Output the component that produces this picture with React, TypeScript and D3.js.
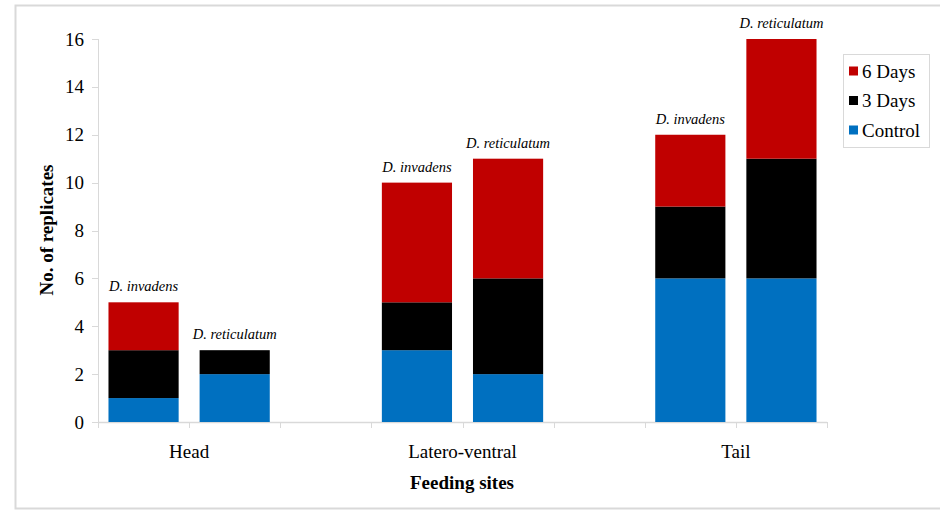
import React from "react";
import * as d3 from "d3";

// Feeding-site categories and the two species compared at each site
const sites = ["Head", "Latero-ventral", "Tail"];
const species = ["D. invadens", "D. reticulatum"];

// Stacked counts per bar, ordered site by site, species within site
const controlVals = [1, 2, 3, 2, 6, 6];
const day3Vals = [2, 1, 2, 4, 3, 5];
const day6Vals = [2, 0, 5, 5, 3, 5];

const yTicks = [0, 2, 4, 6, 8, 10, 12, 14, 16];

const seriesNames = ["Control", "3 Days", "6 Days"];
const seriesColors = ["#0070C0", "#000000", "#C00000"];

const W = 940;
const H = 510;
const FONT = "Liberation Serif, Times New Roman, DejaVu Serif, serif";

export default function App() {
  // Slots along the x axis: two bars per site with an empty slot between sites
  const slots: string[] = [];
  sites.forEach((s, i) => {
    species.forEach((sp) => slots.push(`${s}|${sp}`));
    if (i < sites.length - 1) slots.push(`gap${i}`);
  });

  const x = d3
    .scaleBand<string>()
    .domain(slots)
    .range([98, 827])
    .paddingInner(0.23)
    .paddingOuter(0.115);
  const step = x.step();
  const x0 = 98;

  const y = d3.scaleLinear().domain([0, 16]).range([422, 39]);

  const rows = sites.flatMap((s, si) =>
    species.map((sp, pi) => {
      const idx = si * species.length + pi;
      return {
        key: `${s}|${sp}`,
        species: sp,
        Control: controlVals[idx],
        "3 Days": day3Vals[idx],
        "6 Days": day6Vals[idx],
      };
    })
  );

  const stack = d3.stack<any>().keys(seriesNames);
  const layers = stack(rows);

  const boundaries = d3.range(slots.length + 1).map((i) => x0 + i * step);

  const legendItems = [...seriesNames].reverse();

  const txt = { fontFamily: FONT };

  return (
    <svg
      width={W}
      height={H}
      style={{ position: "absolute", left: 0, top: 0, background: "#fff", fontFamily: FONT }}
    >
      <rect x={15.5} y={5.5} width={940} height={503} fill="#fff" stroke="#d9d9d9" strokeWidth={2} />

      {/* y axis */}
      <line x1={98.5} x2={98.5} y1={y(16)} y2={y(0)} stroke="#d9d9d9" strokeWidth={1} />
      {yTicks.map((t) => (
        <g key={t}>
          <line x1={92} x2={98.5} y1={Math.round(y(t)) + 0.5} y2={Math.round(y(t)) + 0.5} stroke="#d9d9d9" />
          <text x={84} y={y(t) + 6.5} textAnchor="end" fontSize={19} fill="#000" style={txt}>
            {t}
          </text>
        </g>
      ))}

      {/* x axis */}
      <line x1={98} x2={827} y1={422.5} y2={422.5} stroke="#d9d9d9" strokeWidth={1.5} />
      {boundaries.map((bx, i) => (
        <line key={i} x1={Math.round(bx) + 0.5} x2={Math.round(bx) + 0.5} y1={422} y2={428} stroke="#d9d9d9" />
      ))}

      {/* stacked bars */}
      {layers.map((layer, li) =>
        layer.map((d: any) => (
          <rect
            key={`${li}-${d.data.key}`}
            x={x(d.data.key)}
            width={x.bandwidth()}
            y={y(d[1])}
            height={y(d[0]) - y(d[1])}
            fill={seriesColors[li]}
          />
        ))
      )}

      {/* species labels above each bar */}
      {rows.map((r) => {
        const total = r.Control + r["3 Days"] + r["6 Days"];
        return (
          <text
            key={r.key}
            x={(x(r.key) as number) + x.bandwidth() / 2}
            y={y(total) - 11}
            textAnchor="middle"
            fontSize={14.5}
            fontStyle="italic"
            fill="#000"
            style={txt}
          >
            {r.species}
          </text>
        );
      })}

      {/* site labels */}
      {sites.map((s) => {
        const a = x(`${s}|${species[0]}`) as number;
        const b = (x(`${s}|${species[1]}`) as number) + x.bandwidth();
        return (
          <text key={s} x={(a + b) / 2} y={458} textAnchor="middle" fontSize={19} fill="#000" style={txt}>
            {s}
          </text>
        );
      })}

      <text x={462} y={489} textAnchor="middle" fontSize={19} fontWeight="bold" fill="#000" style={txt}>
        Feeding sites
      </text>
      <text
        transform="translate(53,230) rotate(-90)"
        textAnchor="middle"
        fontSize={19}
        fontWeight="bold"
        fill="#000"
        style={txt}
      >
        No. of replicates
      </text>

      {/* legend */}
      <rect x={843.5} y={54.5} width={86} height={93} fill="#fff" stroke="#d9d9d9" />
      {legendItems.map((name, i) => {
        const cy = 71 + i * 29.5;
        const ci = seriesNames.indexOf(name);
        return (
          <g key={name}>
            <rect x={849} y={cy - 4.5} width={9} height={9} fill={seriesColors[ci]} />
            <text x={862} y={cy + 6.5} fontSize={19} fill="#000" style={txt}>
              {name}
            </text>
          </g>
        );
      })}
    </svg>
  );
}
